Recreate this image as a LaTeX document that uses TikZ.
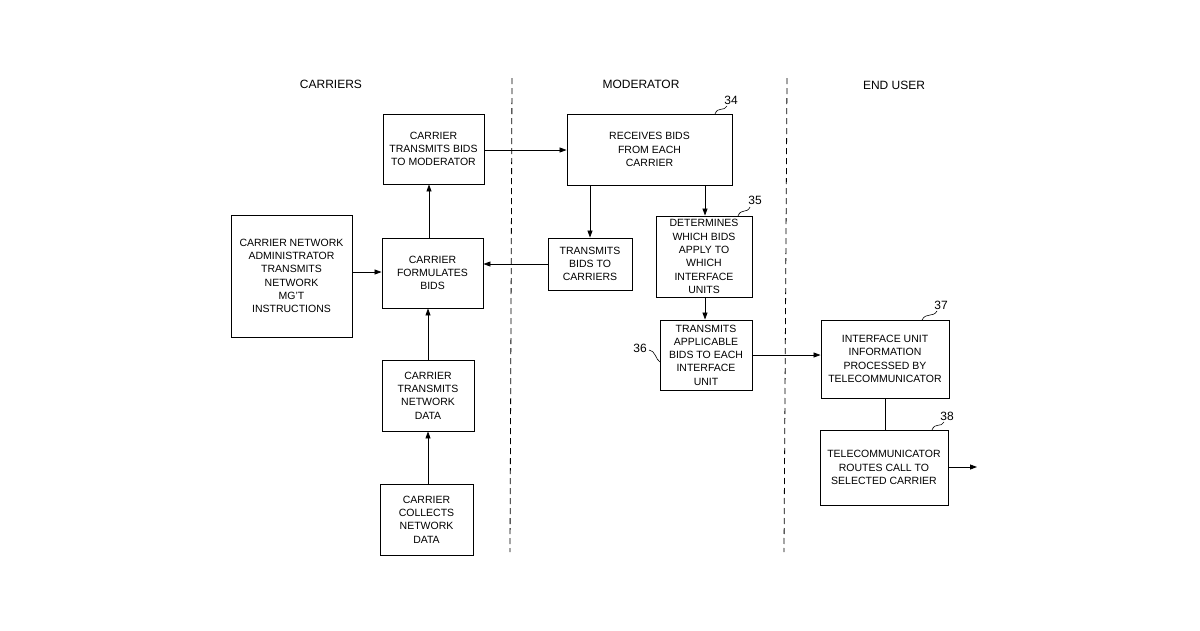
\documentclass[tikz,border=0pt]{standalone}
\usepackage{fontspec}
\setmainfont{Liberation Sans}
\usetikzlibrary{arrows.meta}
\begin{document}
\begin{tikzpicture}[x=1pt,y=-1pt,
  box/.style={draw,line width=0.9pt,align=center,font=\fontsize{10.5}{13.3}\selectfont,inner sep=0pt},
  arr/.style={-{Triangle[length=7pt,width=5pt]},line width=0.8pt},
  hd/.style={font=\fontsize{12}{14}\selectfont},
  num/.style={font=\fontsize{12}{14}\selectfont},
  sq/.style={line width=0.6pt}]
\useasboundingbox (0,0) rectangle (1200,630);
\def\bx#1#2#3#4#5#6{\node[box,minimum width={#4-#2},minimum height={#5-#3}] (#1) at ({(#2+#4)/2},{(#3+#5)/2}) {#6};}
\bx{ct}{383}{114}{484}{184}{CARRIER\\TRANSMITS BIDS\\TO MODERATOR}
\bx{rb}{567}{114}{732}{185}{RECEIVES BIDS\\FROM EACH\\CARRIER}
\bx{na}{231}{215}{352}{337}{CARRIER NETWORK\\ADMINISTRATOR\\TRANSMITS\\NETWORK\\MG'T\\INSTRUCTIONS}
\bx{fb}{382}{238}{483}{308}{CARRIER\\FORMULATES\\BIDS}
\bx{tb}{548}{238}{632}{290}{TRANSMITS\\BIDS TO\\CARRIERS}
\bx{dw}{656}{216}{752}{297}{DETERMINES\\WHICH BIDS\\APPLY TO\\WHICH\\INTERFACE\\UNITS}
\bx{ta}{660}{320}{752}{390}{TRANSMITS\\APPLICABLE\\BIDS TO EACH\\INTERFACE\\UNIT}
\bx{iu}{821}{320}{949}{398}{INTERFACE UNIT\\INFORMATION\\PROCESSED BY\\TELECOMMUNICATOR}
\bx{rc}{820}{430}{948}{505}{TELECOMMUNICATOR\\ROUTES CALL TO\\SELECTED CARRIER}
\bx{nd}{382}{360}{474}{431}{CARRIER\\TRANSMITS\\NETWORK\\DATA}
\bx{cn}{380}{484}{473}{555}{CARRIER\\COLLECTS\\NETWORK\\DATA}
\draw[dashed,line width=0.8pt,dash pattern=on 6pt off 4pt] (512,78) -- (510,552);
\draw[dashed,line width=0.8pt,dash pattern=on 6pt off 4pt] (787,78) -- (784,552);
\node[hd] (h1) at (331,84) {CARRIERS};
\node[hd] (h2) at (641,84) {MODERATOR};
\node[hd] (h3) at (894,85) {END USER};
\draw[arr] (ct.east |- 0,150) -- (rb.west |- 0,150);
\draw[arr] (rb.south -| 590,0) -- (tb.north -| 590,0);
\draw[arr] (rb.south -| 705,0) -- (dw.north -| 705,0);
\draw[arr] (tb.west |- 0,264) -- (fb.east |- 0,264);
\draw[arr] (fb.north -| 429,0) -- (ct.south -| 429,0);
\draw[arr] (na.east |- 0,272) -- (fb.west |- 0,272);
\draw[arr] (nd.north -| 428,0) -- (fb.south -| 428,0);
\draw[arr] (cn.north -| 428,0) -- (nd.south -| 428,0);
\draw[arr] (dw.south -| 705,0) -- (ta.north -| 705,0);
\draw[arr] (ta.east |- 0,355) -- (iu.west |- 0,355);
\draw[line width=0.8pt] (iu.south -| 885,0) -- (rc.north -| 885,0);
\coordinate (out) at (977,467);
\draw[arr] (rc.east |- out) -- (out);
\node[num] (n34) at (731,100) {34};
\draw[sq] (715,114) .. controls (718,106) and (724,112) .. (727,106);
\node[num] (n35) at (755,200) {35};
\draw[sq] (738,216) .. controls (741,208) and (747,214) .. (750,207);
\node[num] (n36) at (640,348) {36};
\draw[sq] (649,350) .. controls (655,350) and (656,360) .. (660,362);
\node[num] (n37) at (941,305) {37};
\draw[sq] (922,320) .. controls (926,312) and (933,318) .. (937,311);
\node[num] (n38) at (947,416) {38};
\draw[sq] (932,430) .. controls (935,422) and (941,428) .. (944,422);
\end{tikzpicture}
\end{document}
